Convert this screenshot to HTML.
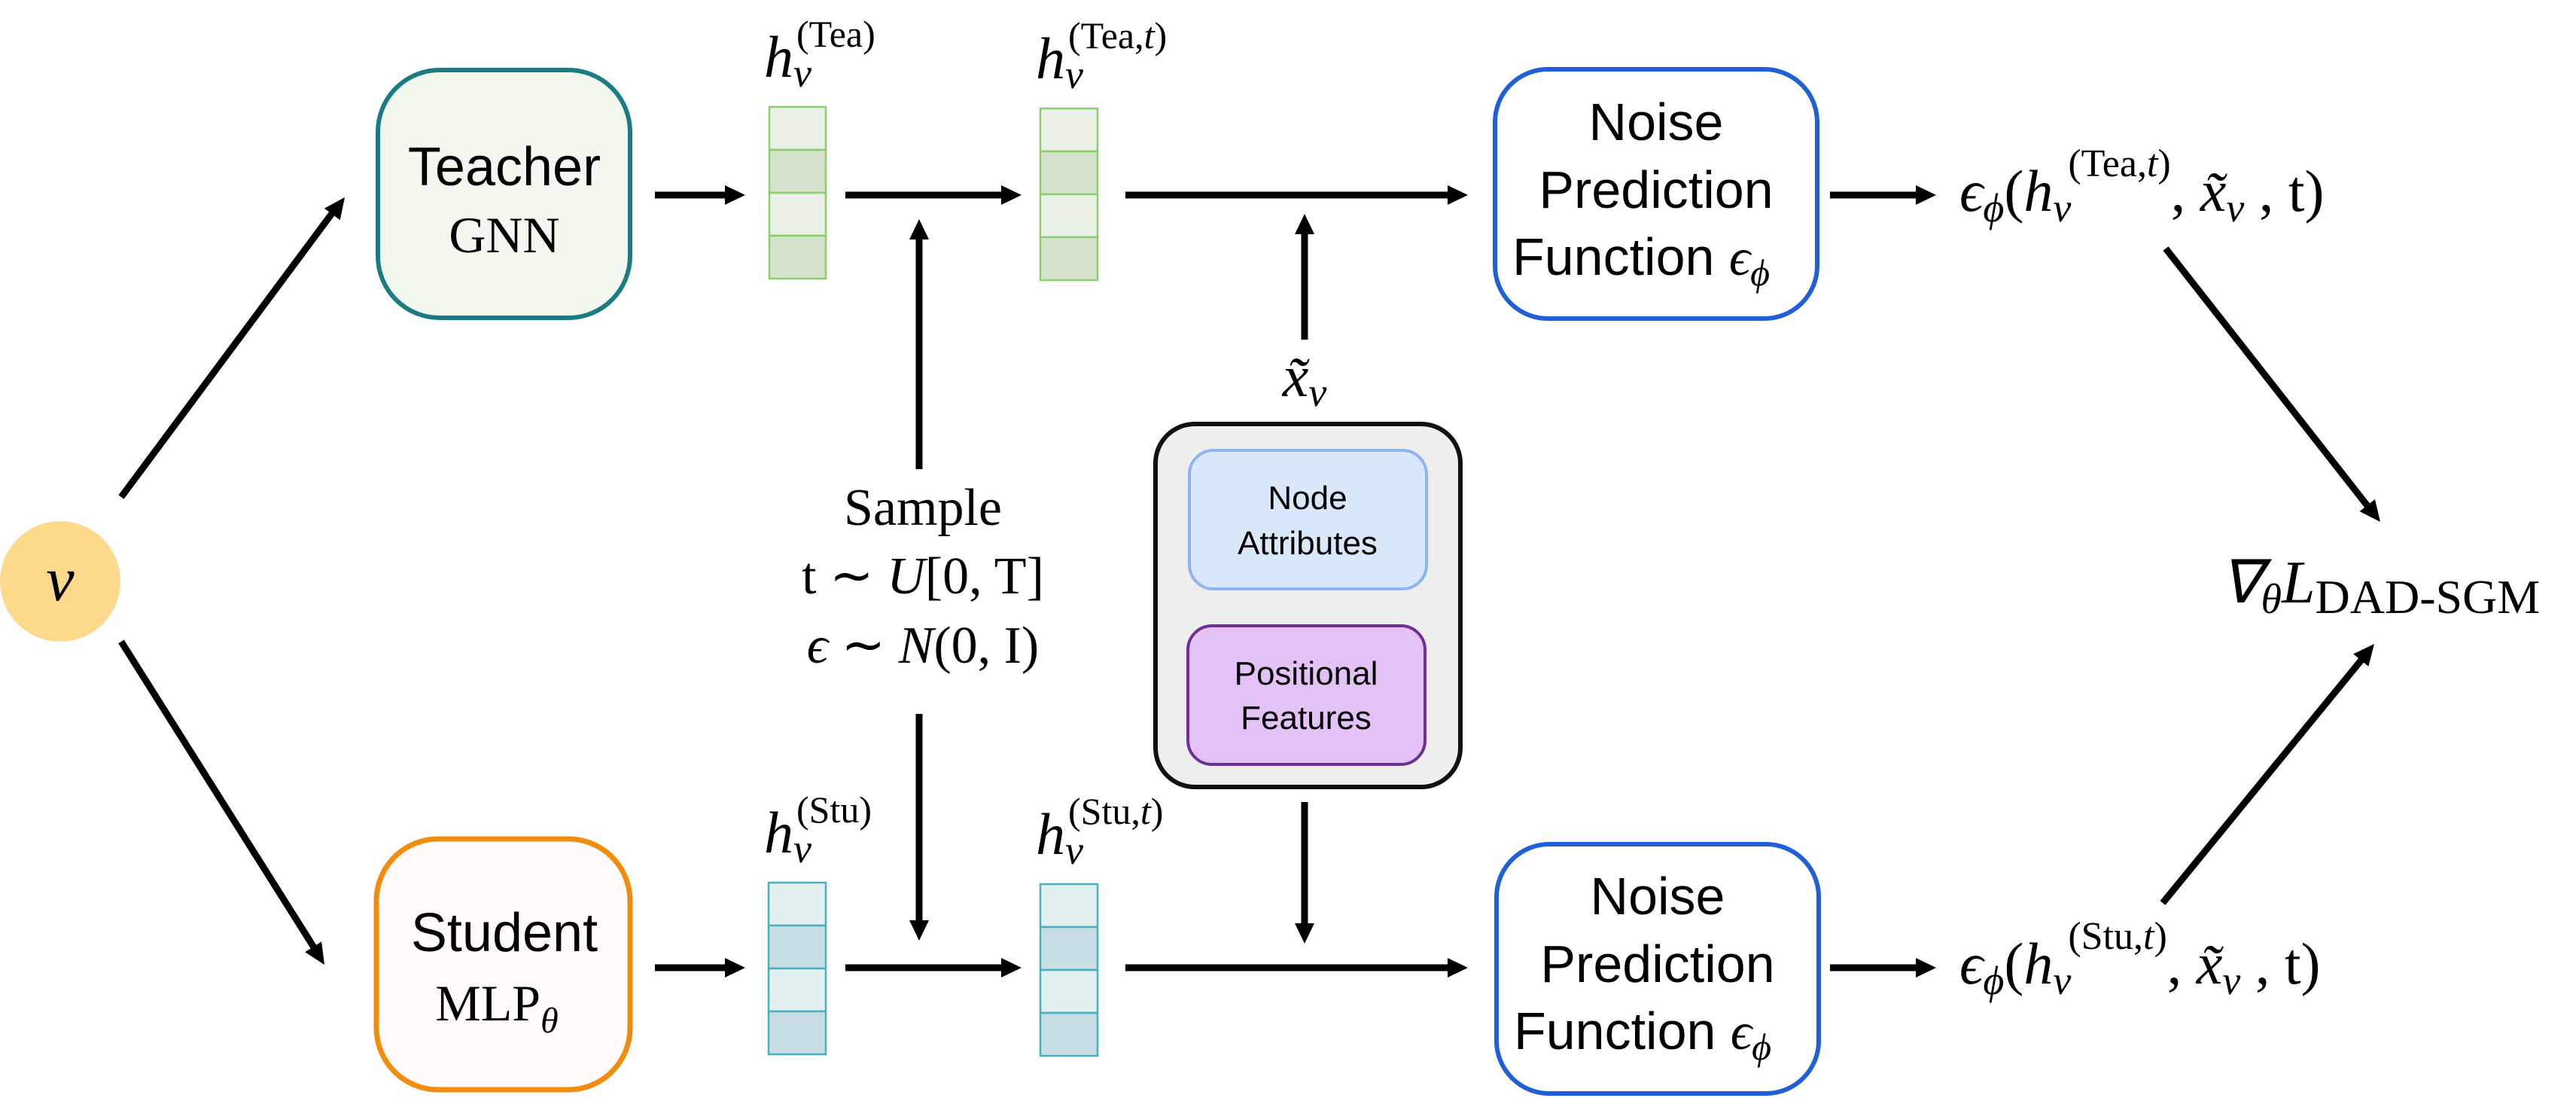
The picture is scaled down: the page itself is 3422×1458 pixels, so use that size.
<!DOCTYPE html>
<html><head><meta charset="utf-8"><style>
html,body{margin:0;padding:0;background:#fff;}
svg{display:block;}
.sans{font-family:"Liberation Sans",sans-serif;}
.ser{font-family:"Liberation Serif",serif;}
.it{font-family:"Liberation Serif",serif;font-style:italic;}
</style></head><body>
<svg width="3422" height="1458" viewBox="0 0 3422 1458" xmlns="http://www.w3.org/2000/svg">
<g stroke="#000" stroke-width="9" fill="none">
<line x1="161" y1="660" x2="445" y2="278" />
<line x1="161" y1="852" x2="422" y2="1266" />
<line x1="870" y1="259" x2="963" y2="259"/>
<line x1="1123" y1="259" x2="1330" y2="259"/>
<line x1="1495" y1="259" x2="1923" y2="259"/>
<line x1="2431" y1="259" x2="2545" y2="259"/>
<line x1="870" y1="1285" x2="963" y2="1285"/>
<line x1="1123" y1="1285" x2="1330" y2="1285"/>
<line x1="1495" y1="1285" x2="1923" y2="1285"/>
<line x1="2431" y1="1285" x2="2545" y2="1285"/>
<line x1="1221" y1="623" x2="1221" y2="318"/>
<line x1="1221" y1="948" x2="1221" y2="1222"/>
<line x1="1733" y1="451" x2="1733" y2="311"/>
<line x1="1733" y1="1065" x2="1733" y2="1226"/>
<line x1="2877" y1="330" x2="3146" y2="673"/>
<line x1="2873" y1="1199" x2="3138" y2="875"/>
</g>
<g fill="#000">
<path d="M963,246 L990,259 L963,272 z"/>
<path d="M1330,246 L1357,259 L1330,272 z"/>
<path d="M1923,246 L1950,259 L1923,272 z"/>
<path d="M2545,246 L2572,259 L2545,272 z"/>
<path d="M963,1272 L990,1285 L963,1298 z"/>
<path d="M1330,1272 L1357,1285 L1330,1298 z"/>
<path d="M1923,1272 L1950,1285 L1923,1298 z"/>
<path d="M2545,1272 L2572,1285 L2545,1298 z"/>
<path d="M1208,318 L1221,291 L1234,318 z"/>
<path d="M1208,1222 L1221,1249 L1234,1222 z"/>
<path d="M1720,311 L1733,284 L1746,311 z"/>
<path d="M1720,1226 L1733,1253 L1746,1226 z"/>
<path transform="translate(458,262) rotate(-53.4)" d="M0,0 L-28,-13 L-28,13 z"/>
<path transform="translate(431,1281) rotate(57.8)" d="M0,0 L-28,-13 L-28,13 z"/>
<path transform="translate(3162,693) rotate(51.9)" d="M0,0 L-28,-13 L-28,13 z"/>
<path transform="translate(3154,855) rotate(-50.6)" d="M0,0 L-28,-13 L-28,13 z"/>
</g>

<circle cx="80" cy="772" r="80" fill="#fdd98c"/>
<text x="80" y="797" text-anchor="middle" class="it" font-size="84">v</text>

<rect x="502" y="93" width="335" height="329" rx="82" fill="#f3f8ef" stroke="#1b7b82" stroke-width="6"/>
<text x="670" y="246" text-anchor="middle" class="sans" font-size="72">Teacher</text>
<text x="670" y="335" text-anchor="middle" class="ser" font-size="68">GNN</text>

<rect x="500" y="1114" width="337" height="333" rx="82" fill="#fffafa" stroke="#f28c0c" stroke-width="7"/>
<text x="670" y="1263" text-anchor="middle" class="sans" font-size="72">Student</text>
<text x="660" y="1355" text-anchor="middle" class="ser" font-size="68">MLP<tspan class="it" font-size="48" dy="16">θ</tspan></text>

<g stroke="#8ccd6c" stroke-width="2.5">
<rect x="1022" y="142" width="75" height="57" fill="#e9f0e6"/>
<rect x="1022" y="199" width="75" height="57" fill="#d5e3cd"/>
<rect x="1022" y="256" width="75" height="57" fill="#e9f0e6"/>
<rect x="1022" y="313" width="75" height="57" fill="#d5e3cd"/>
<rect x="1382" y="144" width="76" height="57" fill="#e9f0e6"/>
<rect x="1382" y="201" width="76" height="57" fill="#d5e3cd"/>
<rect x="1382" y="258" width="76" height="57" fill="#e9f0e6"/>
<rect x="1382" y="315" width="76" height="57" fill="#d5e3cd"/>
</g>
<g stroke="#45b0c2" stroke-width="2.5">
<rect x="1021" y="1172" width="76" height="57" fill="#e4eff0"/>
<rect x="1021" y="1229" width="76" height="57" fill="#c9dee2"/>
<rect x="1021" y="1286" width="76" height="57" fill="#e4eff0"/>
<rect x="1021" y="1343" width="76" height="57" fill="#c9dee2"/>
<rect x="1382" y="1174" width="76" height="57" fill="#e4eff0"/>
<rect x="1382" y="1231" width="76" height="57" fill="#c9dee2"/>
<rect x="1382" y="1288" width="76" height="57" fill="#e4eff0"/>
<rect x="1382" y="1345" width="76" height="57" fill="#c9dee2"/>
</g>

<text x="1015" y="102" class="it" font-size="78">h<tspan font-size="54" dy="13">v</tspan></text>
<text x="1058" y="62" class="ser" font-size="50">(Tea)</text>
<text x="1376" y="104" class="it" font-size="78">h<tspan font-size="54" dy="13">v</tspan></text>
<text x="1419" y="64" class="ser" font-size="50">(Tea,<tspan class="it">t</tspan>)</text>
<text x="1015" y="1132" class="it" font-size="78">h<tspan font-size="54" dy="13">v</tspan></text>
<text x="1058" y="1092" class="ser" font-size="50">(Stu)</text>
<text x="1376" y="1134" class="it" font-size="78">h<tspan font-size="54" dy="13">v</tspan></text>
<text x="1419" y="1094" class="ser" font-size="50">(Stu,<tspan class="it">t</tspan>)</text>

<text x="1226" y="697" text-anchor="middle" class="ser" font-size="70">Sample</text>
<text x="1226" y="788" text-anchor="middle" class="ser" font-size="70">t ∼ <tspan class="it">U</tspan>[0, T]</text>
<text x="1226" y="880" text-anchor="middle" class="ser" font-size="70"><tspan class="it">ϵ</tspan> ∼ <tspan class="it">N</tspan>(0, I)</text>

<text x="1733" y="526" text-anchor="middle" class="it" font-size="78">x̃<tspan font-size="54" dy="13">v</tspan></text>

<rect x="1535" y="563" width="405" height="482" rx="52" fill="#eeeeee" stroke="#111" stroke-width="6"/>
<rect x="1580" y="598" width="315" height="184" rx="32" fill="#dae8fc" stroke="#8fb4f2" stroke-width="4"/>
<text x="1737" y="676" text-anchor="middle" class="sans" font-size="44">Node</text>
<text x="1737" y="736" text-anchor="middle" class="sans" font-size="44">Attributes</text>
<rect x="1578" y="831" width="315" height="184" rx="32" fill="#e4c2f8" stroke="#6f3096" stroke-width="4"/>
<text x="1735" y="909" text-anchor="middle" class="sans" font-size="44">Positional</text>
<text x="1735" y="968" text-anchor="middle" class="sans" font-size="44">Features</text>

<rect x="1986" y="92" width="428" height="331" rx="70" fill="#fff" stroke="#1f5fd8" stroke-width="6"/>
<text x="2200" y="186" text-anchor="middle" class="sans" font-size="70">Noise</text>
<text x="2200" y="276" text-anchor="middle" class="sans" font-size="70">Prediction</text>
<text x="2180" y="365" text-anchor="middle" class="sans" font-size="70">Function <tspan class="it">ϵ</tspan><tspan class="it" font-size="50" dy="14">ϕ</tspan></text>
<rect x="1988" y="1121" width="428" height="331" rx="70" fill="#fff" stroke="#1f5fd8" stroke-width="6"/>
<text x="2202" y="1214" text-anchor="middle" class="sans" font-size="70">Noise</text>
<text x="2202" y="1304" text-anchor="middle" class="sans" font-size="70">Prediction</text>
<text x="2182" y="1393" text-anchor="middle" class="sans" font-size="70">Function <tspan class="it">ϵ</tspan><tspan class="it" font-size="50" dy="14">ϕ</tspan></text>

<text x="2603" y="280" class="it" font-size="78">ϵ<tspan font-size="54" dy="14">ϕ</tspan><tspan class="ser" font-style="normal" dy="-14">(</tspan>h<tspan font-size="54" dy="14">v</tspan><tspan font-size="52" dx="-4" dy="-60" class="ser" font-style="normal">(Tea,</tspan><tspan font-size="52">t</tspan><tspan font-size="52" class="ser" font-style="normal">)</tspan><tspan class="ser" font-style="normal" dy="46">, </tspan>x̃<tspan font-size="54" dy="14">v</tspan><tspan class="ser" font-style="normal" dy="-14"> , t)</tspan></text>
<text x="2603" y="1306" class="it" font-size="78">ϵ<tspan font-size="54" dy="14">ϕ</tspan><tspan class="ser" font-style="normal" dy="-14">(</tspan>h<tspan font-size="54" dy="14">v</tspan><tspan font-size="52" dx="-4" dy="-60" class="ser" font-style="normal">(Stu,</tspan><tspan font-size="52">t</tspan><tspan font-size="52" class="ser" font-style="normal">)</tspan><tspan class="ser" font-style="normal" dy="46">, </tspan>x̃<tspan font-size="54" dy="14">v</tspan><tspan class="ser" font-style="normal" dy="-14"> , t)</tspan></text>

<text x="2950" y="800" class="it" font-size="80">∇<tspan font-size="56" dy="14">θ</tspan><tspan dy="-14">L</tspan><tspan class="ser" font-style="normal" font-size="64" dy="14">DAD-SGM</tspan></text>
</svg>
</body></html>
